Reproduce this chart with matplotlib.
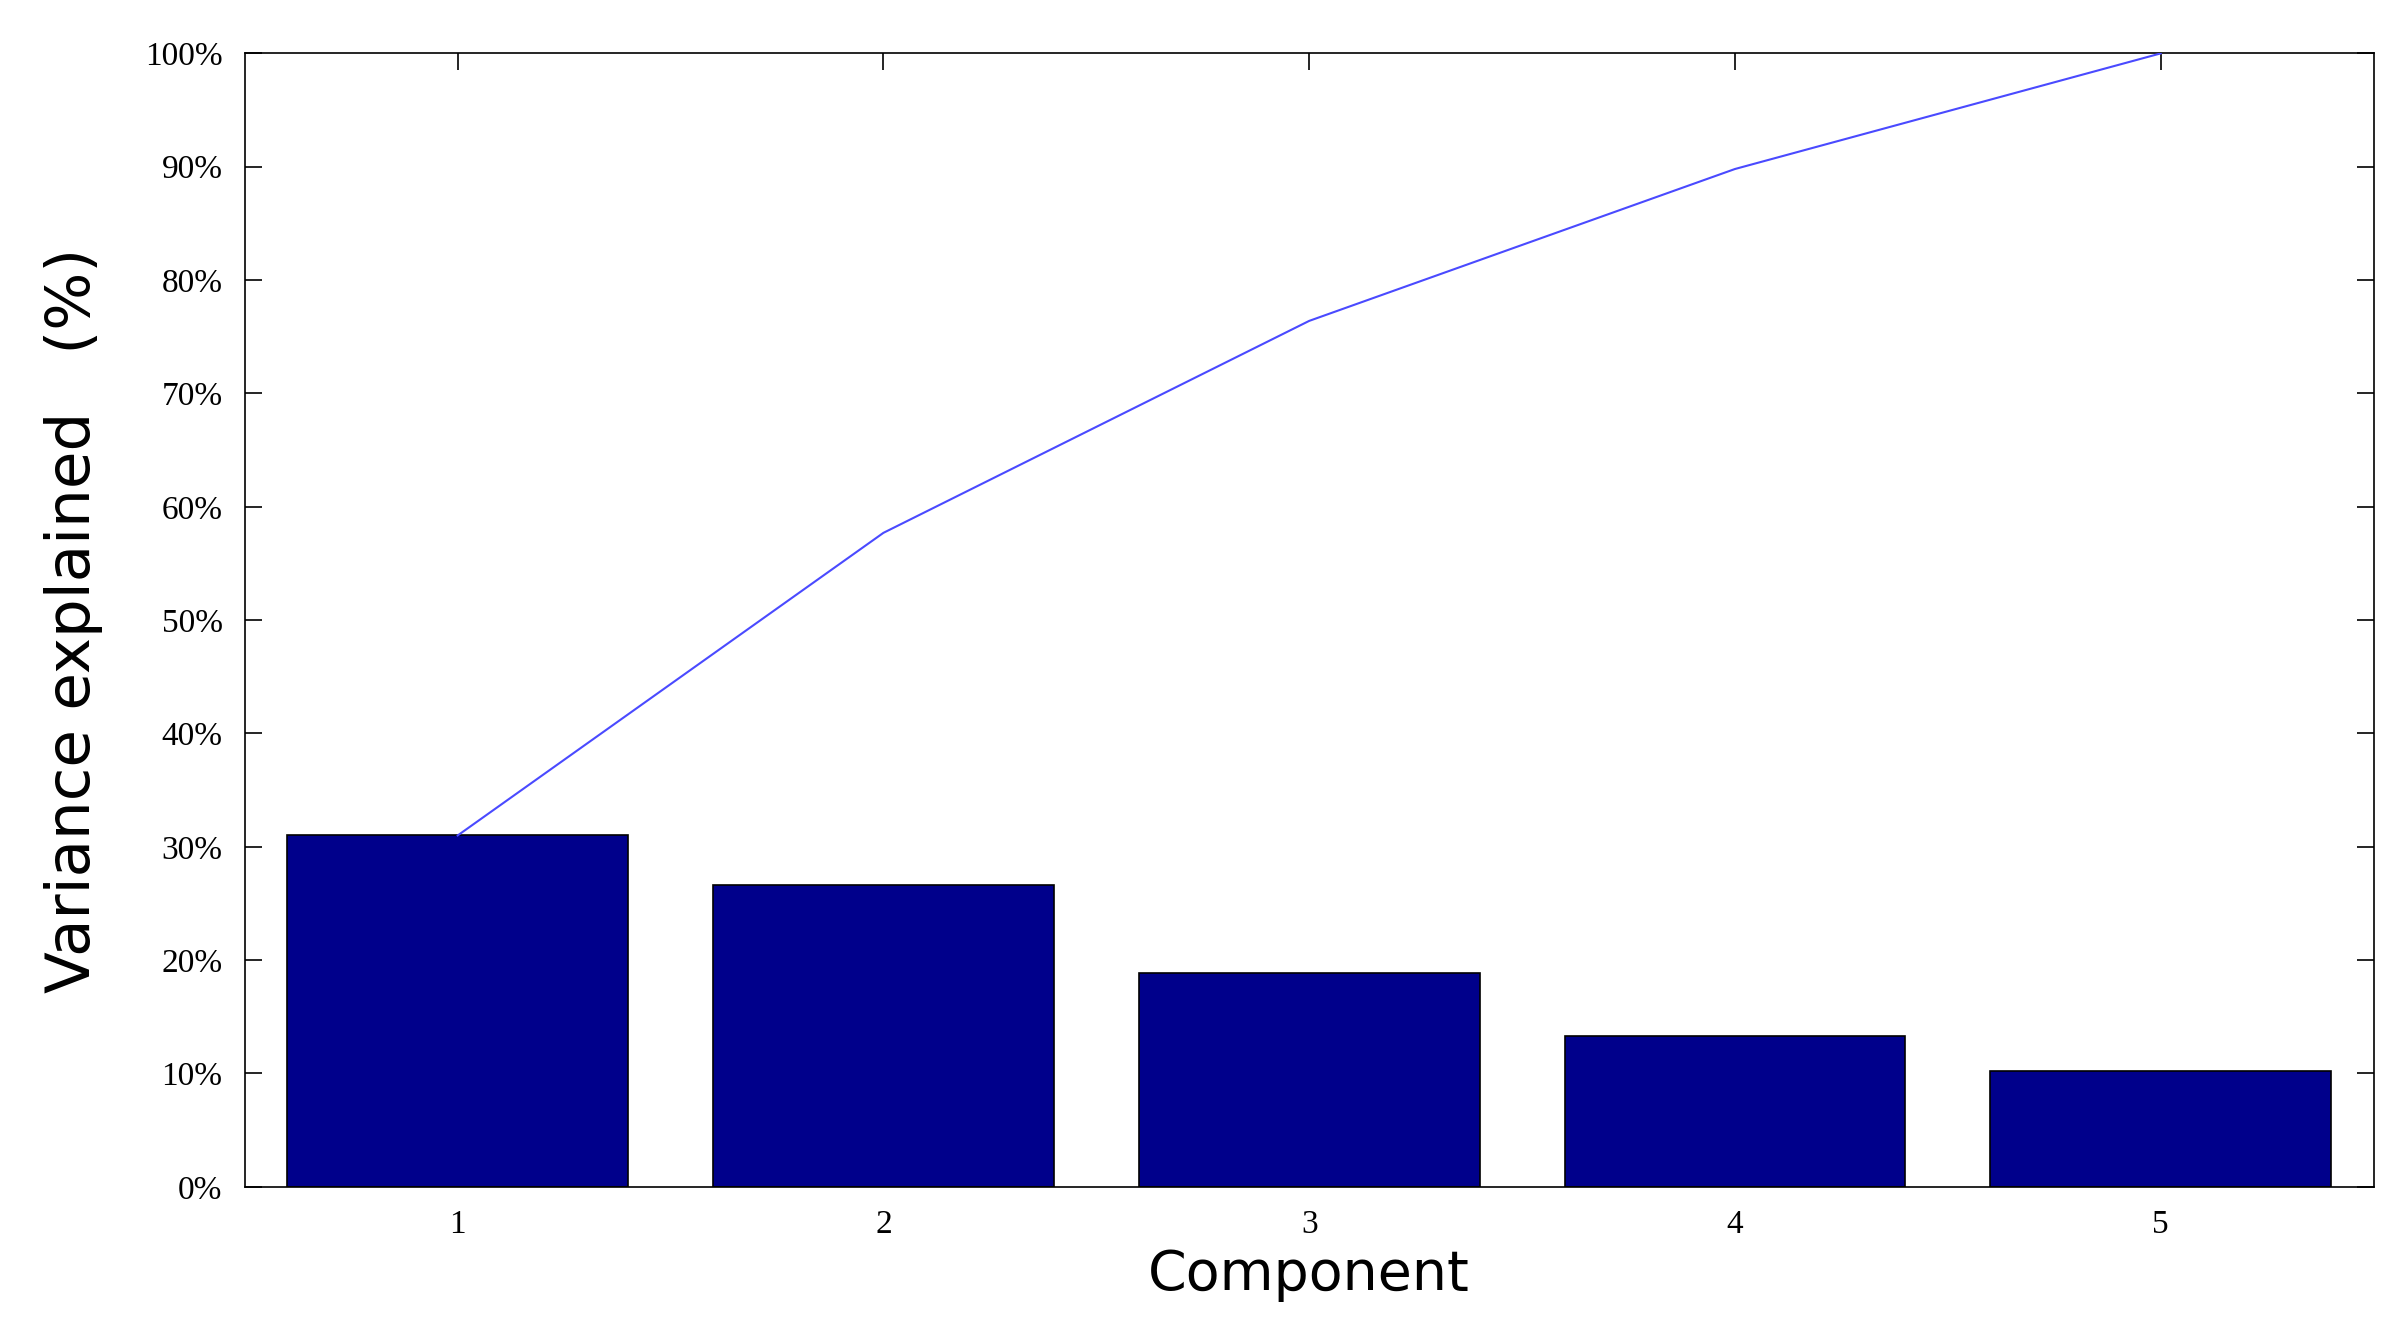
import matplotlib
matplotlib.use("Agg")
import matplotlib.pyplot as plt
from matplotlib.ticker import FuncFormatter

components = [1, 2, 3, 4, 5]
variance = [31.0, 26.6, 18.9, 13.3, 10.2]
cumulative = [31.0, 57.7, 76.4, 89.8, 100.0]
yticks = [0, 10, 20, 30, 40, 50, 60, 70, 80, 90, 100]

fig = plt.figure(figsize=(24, 13.35), dpi=100)
ax = fig.add_axes([0.102, 0.111, 0.887, 0.849])
ax.bar(components, variance, width=0.8, color="#00008B", edgecolor="black", linewidth=1.2, zorder=2)
ax.plot(components, cumulative, color="#4a4aff", linewidth=1.5, zorder=3)
ax.set_xlim(0.5, 5.5)
ax.set_ylim(0, 100)
ax.set_yticks(yticks)
ax.set_xticks(components)
ax.yaxis.set_major_formatter(FuncFormatter(lambda v, p: f"{int(v)}%"))
ax.tick_params(direction="in", top=True, right=True, length=12, width=1.2, pad=16)
for lab in ax.get_xticklabels() + ax.get_yticklabels():
    lab.set_family("Liberation Serif")
    lab.set_fontsize(24)
for s in ax.spines.values():
    s.set_linewidth(1.2)
ax.set_xlabel("Component", fontsize=40, family="DejaVu Sans", labelpad=6)
ax.set_ylabel("Variance explained   (%)", fontsize=44, family="DejaVu Sans", labelpad=30)
fig.savefig("out.png", dpi=100)
